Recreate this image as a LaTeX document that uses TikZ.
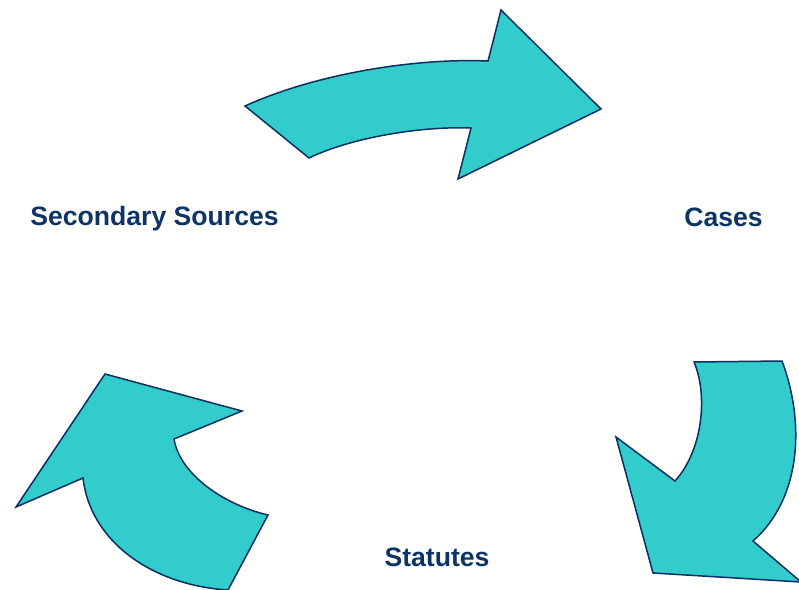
\documentclass[tikz,border=0pt]{standalone}
\usepackage{fontspec}
\setmainfont{Liberation Sans}
\definecolor{arrowfill}{HTML}{33CCCC}
\definecolor{arrowline}{HTML}{0B2F5E}
\definecolor{labeltext}{HTML}{0E3466}
\begin{document}
\begin{tikzpicture}[x=1pt,y=-1pt,
  cyclearrow/.style={fill=arrowfill,draw=arrowline,line width=1.5pt,line join=miter},
  label/.style={text=labeltext,font=\fontsize{26.6}{30}\selectfont\bfseries,anchor=base,inner sep=0pt}]
\useasboundingbox (0,0) rectangle (799,589);
% top arrow
\path[cyclearrow] (245,106) .. controls (320,72) and (420,58) .. (488,61)
  -- (501,10) -- (601,109) -- (458,179) -- (471,128)
  .. controls (420,126) and (350,138) .. (309,158) -- cycle;
% right arrow
\path[cyclearrow] (694,362) -- (782,361)
  .. controls (806,425) and (800,500) .. (753,541)
  -- (801,582) -- (653,573) -- (616,437) -- (675,481)
  .. controls (703,450) and (708,395) .. (694,362) -- cycle;
% left arrow
\path[cyclearrow] (105,374) -- (242,411) -- (174,439)
  .. controls (180,475) and (225,505) .. (268,515)
  -- (228,590) .. controls (150,585) and (90,540) .. (83,478)
  -- (16,507) -- cycle;
\node[label] (sec) at (154.5,225) {Secondary Sources};
\node[label] (cas) at (723.5,226) {Cases};
\node[label] (sta) at (437,566) {Statutes};
\end{tikzpicture}
\end{document}
